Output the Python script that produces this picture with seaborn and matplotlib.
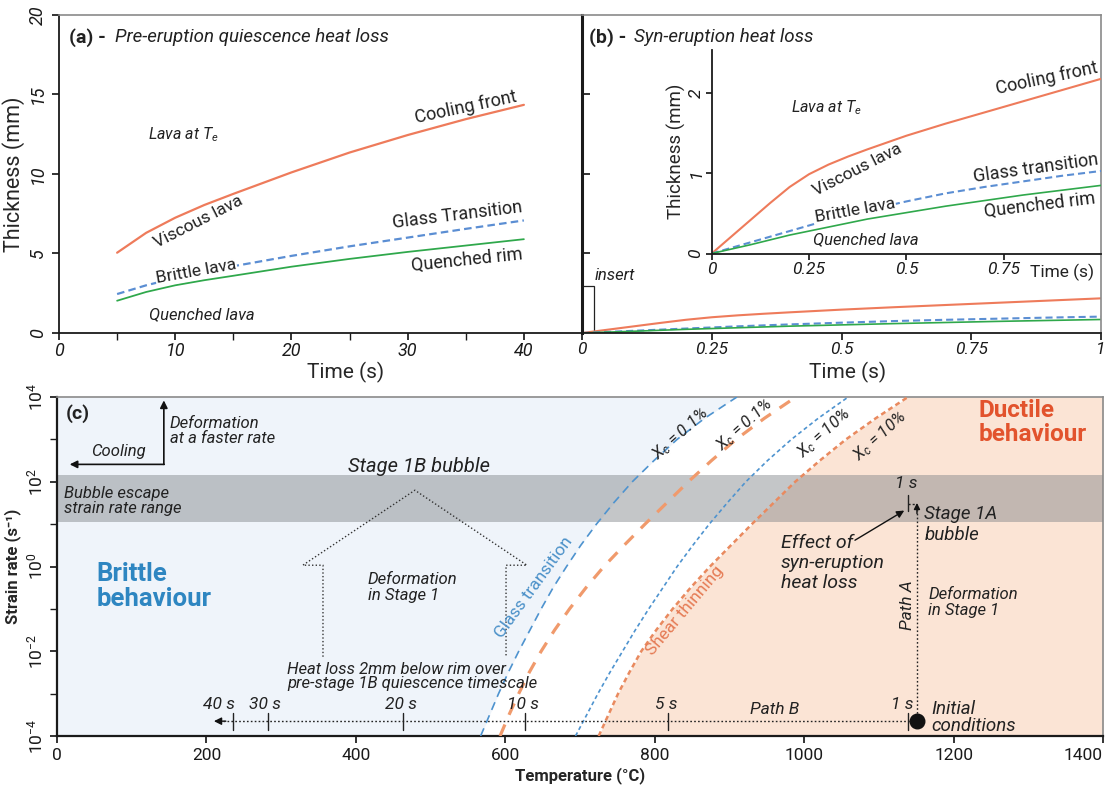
import numpy as np
import pandas as pd
import matplotlib
matplotlib.use("Agg")
import matplotlib.pyplot as plt
from matplotlib.patches import Rectangle
from matplotlib.ticker import FixedLocator, NullFormatter
import seaborn as sns

# ---------------- data ----------------
# Panel (a): pre-eruption quiescence heat loss (thickness in mm vs time in s)
time_a = [5, 7.5, 10, 12.5, 15, 20, 25, 30, 35, 40]
cooling_front_a = [5.05, 6.3, 7.25, 8.05, 8.75, 10.1, 11.35, 12.45, 13.45, 14.35]
glass_transition_a = [2.45, 3.0, 3.45, 3.85, 4.2, 4.85, 5.45, 6.0, 6.55, 7.08]
quenched_rim_a = [2.03, 2.58, 3.0, 3.32, 3.6, 4.17, 4.66, 5.1, 5.5, 5.9]

# Panel (b): syn-eruption heat loss
time_b = [0, 0.05, 0.1, 0.15, 0.2, 0.25, 0.3, 0.35, 0.4, 0.5, 0.6, 0.7, 0.8, 0.9, 1.0]
cooling_front_b = [0, 0.21, 0.42, 0.63, 0.83, 0.99, 1.11, 1.21, 1.30, 1.47, 1.62, 1.76, 1.90, 2.04, 2.18]
glass_transition_b = [0, 0.07, 0.14, 0.21, 0.28, 0.35, 0.42, 0.48, 0.54, 0.65, 0.75, 0.83, 0.90, 0.97, 1.03]
quenched_rim_b = [0, 0.055, 0.11, 0.17, 0.23, 0.28, 0.33, 0.38, 0.43, 0.51, 0.59, 0.66, 0.73, 0.79, 0.85]

# Panel (c): strain rate (10^exponent) vs temperature (deg C) for each boundary
rate_exponent = [-4, -3.5, -3, -2.5, -2, -1.5, -1, -0.5, 0, 0.5, 1, 1.5, 2, 2.5, 3, 3.5, 4]
glass_T_xc01 = [567, 579, 591, 604, 618, 633, 648, 664, 682, 701, 722, 745, 770, 799, 830, 867, 910]
shear_T_xc01 = [593, 605, 618, 632, 648, 666, 686, 708, 732, 759, 787, 816, 845, 876, 909, 947, 989]
glass_T_xc10 = [694, 709, 724, 740, 757, 774, 792, 811, 830, 851, 873, 897, 922, 951, 983, 1019, 1059]
shear_T_xc10 = [725, 738, 751, 766, 782, 802, 824, 848, 874, 902, 930, 959, 988, 1021, 1056, 1096, 1139]
band_exponent = [1.05, 2.15]

path_b_labels = ["1 s", "5 s", "10 s", "20 s", "30 s", "40 s"]
path_b_T = [1139, 818, 627, 463, 282, 235]
initial_T = 1151
initial_exp = -3.65
path_a_top_exp = 1.5

# ---------------- style ----------------
sns.set_theme(style="ticks")
plt.rcParams["font.family"] = ["Roboto", "DejaVu Sans"]
plt.rcParams["mathtext.fontset"] = "custom"
plt.rcParams["mathtext.rm"] = "Roboto"
plt.rcParams["mathtext.it"] = "Roboto:italic"
plt.rcParams["mathtext.bf"] = "Roboto:bold"

C_ORANGE = "#EE7B5B"
C_BLUE = "#5B8ED3"
C_GREEN = "#2FA84B"
C_CBLUE = "#4E93CF"
C_CORANGE = "#F09A6C"
C_CORANGE2 = "#E98A5F"
TXT = "#222222"

fig = plt.figure(figsize=(11.09, 7.91), dpi=100)
W, H = 1109, 791
ax_a = fig.add_axes([59 / W, 1 - 333 / H, 523 / W, 318 / H])
ax_b = fig.add_axes([582 / W, 1 - 333 / H, 519 / W, 318 / H])
ax_in = fig.add_axes([711.75 / W, 1 - 253.5 / H, 389.25 / W, 203.5 / H])
ax_c = fig.add_axes([57 / W, 1 - 736 / H, 1046 / W, 339 / H])


def style_spines(ax, gray=("top", "right"), black=("left", "bottom")):
    for s in gray:
        ax.spines[s].set_color("#8a8a8a")
        ax.spines[s].set_linewidth(1.2)
    for s in black:
        ax.spines[s].set_color("#1a1a1a")
        ax.spines[s].set_linewidth(1.3)


def three_lines(ax, t, cf, gt, qr, lw=1.6):
    sns.lineplot(x=t, y=cf, ax=ax, color=C_ORANGE, linewidth=lw, sort=False)
    sns.lineplot(x=t, y=gt, ax=ax, color=C_BLUE, linewidth=lw, linestyle=(0, (3.4, 1.9)), sort=False)
    sns.lineplot(x=t, y=qr, ax=ax, color=C_GREEN, linewidth=lw * 0.8, sort=False)


# ---------------- panel (a) ----------------
three_lines(ax_a, time_a, cooling_front_a, glass_transition_a, quenched_rim_a)
ax_a.set_xlim(0, 45)
ax_a.set_ylim(0, 20)
ax_a.set_xticks([0, 10, 20, 30, 40])
ax_a.set_xticks([5, 15, 25, 35], minor=True)
ax_a.set_yticks([0, 5, 10, 15, 20])
ax_a.tick_params(axis="both", which="both", direction="out", length=5, labelsize=13, colors="#1a1a1a")
ax_a.tick_params(axis="x", pad=1.5)
ax_a.tick_params(axis="y", labelrotation=90)
for lab in ax_a.get_xticklabels() + ax_a.get_yticklabels():
    lab.set_style("italic")
for lab in ax_a.get_yticklabels():
    lab.set_va("center")
ax_a.spines["right"].set_visible(False)
style_spines(ax_a, gray=("top",))
ax_a.set_xlabel("Time (s)", fontsize=15)
ax_a.xaxis.set_label_coords((346 - 59) / 523, -0.092)
ax_a.set_ylabel("Thickness (mm)", fontsize=15.5, labelpad=3)

ax_a.text(0.9, 18.6, "(a) -", fontsize=14, fontweight="bold", va="center", color=TXT)
ax_a.text(4.8, 18.6, "Pre-eruption quiescence heat loss", fontsize=13.5, style="italic", va="center", color=TXT)
ax_a.text(10.7, 12.45, "Lava at $T_e$", fontsize=11.5, style="italic", ha="center", va="center", color=TXT)
ax_a.text(35.0, 14.2, "Cooling front", fontsize=13, rotation=12, ha="center", va="center", color=TXT)
ax_a.text(12.0, 7.0, "Viscous lava", fontsize=12.5, rotation=27, ha="center", va="center", color=TXT)
ax_a.text(34.3, 7.4, "Glass Transition", fontsize=13, rotation=7, ha="center", va="center", color=TXT)
ax_a.text(11.8, 3.85, "Brittle lava", fontsize=12.5, rotation=10, ha="center", va="center", color=TXT,
          bbox=dict(facecolor="white", edgecolor="none", pad=0.5))
ax_a.text(35.1, 4.6, "Quenched rim", fontsize=13, rotation=6, ha="center", va="center", color=TXT)
ax_a.text(12.3, 1.13, "Quenched lava", fontsize=12, style="italic", ha="center", va="center", color=TXT)

# ---------------- panel (b) ----------------
three_lines(ax_b, time_b, cooling_front_b, glass_transition_b, quenched_rim_b, lw=1.5)
ax_b.set_xlim(0, 1)
ax_b.set_ylim(0, 20)
ax_b.set_xticks([0, 0.25, 0.5, 0.75, 1])
ax_b.set_xticklabels(["0", "0.25", "0.5", "0.75", "1"])
ax_b.set_yticks([5, 10, 15])
ax_b.set_yticklabels([])
ax_b.tick_params(axis="x", direction="out", length=5, labelsize=12.5, pad=1.5, colors="#1a1a1a")
ax_b.tick_params(axis="y", direction="in", length=6, colors="#1a1a1a")
for lab in ax_b.get_xticklabels():
    lab.set_style("italic")
style_spines(ax_b)
ax_b.spines["left"].set_linewidth(2.2)
ax_b.set_xlabel("Time (s)", fontsize=15)
ax_b.xaxis.set_label_coords((848 - 582) / 519, -0.092)
ax_b.add_patch(Rectangle((0, 0), 0.024, 2.97, fill=False, edgecolor="#222222", linewidth=0.9))
ax_b.text(0.064, 3.6, "insert", fontsize=12, style="italic", ha="center", va="center", color=TXT)
ax_b.text(0.013, 18.6, "(b) -", fontsize=14, fontweight="bold", va="center", color=TXT)
ax_b.text(0.1, 18.6, "Syn-eruption heat loss", fontsize=13.5, style="italic", va="center", color=TXT)

# inset
three_lines(ax_in, time_b, cooling_front_b, glass_transition_b, quenched_rim_b, lw=1.5)
ax_in.set_xlim(0, 1)
ax_in.set_ylim(0, 2.54)
ax_in.patch.set_alpha(0)
ax_in.set_xticks([0, 0.25, 0.5, 0.75])
ax_in.set_xticklabels(["0", "0.25", "0.5", "0.75"])
ax_in.set_yticks([0, 1, 2])
ax_in.tick_params(axis="both", direction="out", length=4, labelsize=12.5, colors="#1a1a1a", pad=2)
ax_in.tick_params(axis="y", labelrotation=90)
for lab in ax_in.get_xticklabels() + ax_in.get_yticklabels():
    lab.set_style("italic")
for lab in ax_in.get_yticklabels():
    lab.set_va("center")
ax_in.spines["top"].set_visible(False)
ax_in.spines["right"].set_visible(False)
style_spines(ax_in, gray=())
ax_in.set_ylabel("Thickness (mm)", fontsize=13.5, labelpad=2)
ax_in.text(0.9, -0.235, "Time (s)", fontsize=12.5, ha="center", va="center", color=TXT)
ax_in.text(0.294, 1.82, "Lava at $T_e$", fontsize=11.5, style="italic", ha="center", va="center", color=TXT)
ax_in.text(0.862, 2.18, "Cooling front", fontsize=13, rotation=12, ha="center", va="center", color=TXT)
ax_in.text(0.375, 1.04, "Viscous lava", fontsize=12.5, rotation=27, ha="center", va="center", color=TXT)
ax_in.text(0.833, 1.06, "Glass transition", fontsize=13, rotation=8, ha="center", va="center", color=TXT)
ax_in.text(0.368, 0.54, "Brittle lava", fontsize=12.5, rotation=10, ha="center", va="center", color=TXT,
           bbox=dict(facecolor="white", edgecolor="none", pad=0.5))
ax_in.text(0.842, 0.6, "Quenched rim", fontsize=13, rotation=7, ha="center", va="center", color=TXT)
ax_in.text(0.395, 0.17, "Quenched lava", fontsize=12, style="italic", ha="center", va="center", color=TXT)

# ---------------- panel (c) ----------------
rates = [10.0 ** e for e in rate_exponent]
ax_c.set_yscale("log")
ax_c.set_xlim(0, 1400)
ax_c.set_ylim(1e-4, 1e4)
ax_c.fill_betweenx(rates, 0, glass_T_xc01, color="#EFF4FA", lw=0, zorder=0)
ax_c.fill_betweenx(rates, shear_T_xc10, 1400, color="#FBE4D5", lw=0, zorder=0)
ax_c.axhspan(10 ** band_exponent[0], 10 ** band_exponent[1], color="#7d8186", alpha=0.45, lw=0, zorder=1)

sns.lineplot(x=glass_T_xc01, y=rates, ax=ax_c, sort=False, color=C_CBLUE, linewidth=1.2,
             linestyle=(0, (5, 3.5)), zorder=3)
sns.lineplot(x=shear_T_xc01, y=rates, ax=ax_c, sort=False, color=C_CORANGE, linewidth=2.3,
             linestyle=(0, (3.9, 3.3)), zorder=3)
sns.lineplot(x=glass_T_xc10, y=rates, ax=ax_c, sort=False, color=C_CBLUE, linewidth=1.2,
             linestyle=(0, (2.4, 1.8)), zorder=3)
sns.lineplot(x=shear_T_xc10, y=rates, ax=ax_c, sort=False, color=C_CORANGE2, linewidth=1.8,
             linestyle=(0, (2.0, 1.4)), zorder=3)

ax_c.set_xticks(list(range(0, 1401, 200)))
ax_c.yaxis.set_major_locator(FixedLocator([1e-4, 1e-2, 1e0, 1e2, 1e4]))
ax_c.yaxis.set_minor_locator(FixedLocator([1e-3, 1e-1, 1e1, 1e3]))
ax_c.yaxis.set_minor_formatter(NullFormatter())
ax_c.set_yticklabels(["$10^{-4}$", "$10^{-2}$", "$10^{0}$", "$10^{2}$", "$10^{4}$"])
ax_c.tick_params(axis="both", which="both", direction="out", length=5, labelsize=12.5, colors="#1a1a1a")
ax_c.tick_params(axis="y", labelrotation=90)
for lab in ax_c.get_yticklabels():
    lab.set_va("center")
ax_c.get_xticklabels()[-1].set_ha("right")
style_spines(ax_c)
ax_c.spines["left"].set_linewidth(1.6)
ax_c.spines["bottom"].set_linewidth(1.6)
ax_c.set_xlabel("Temperature (°C)", fontsize=12, fontweight="bold", labelpad=3)
ax_c.set_ylabel("Strain rate (s⁻¹)", fontsize=12, fontweight="bold", labelpad=3)


def tc(x, e, s, **kw):
    kw.setdefault("fontsize", 12)
    kw.setdefault("style", "italic")
    kw.setdefault("color", TXT)
    kw.setdefault("zorder", 5)
    ax_c.text(x, 10 ** e, s, **kw)


tc(12, 3.6, "(c)", fontsize=14, style="normal", fontweight="bold", va="center")
tc(82, 2.72, "Cooling", ha="center", va="center")
tc(151, 3.2, "Deformation\nat a faster rate", ha="left", va="center", linespacing=1.05)
ax_c.annotate("", xy=(17, 10 ** 2.41), xytext=(143.5, 10 ** 2.41),
              arrowprops=dict(arrowstyle="-|>", color="#111", lw=1.2, mutation_scale=11, shrinkA=0, shrinkB=0))
ax_c.annotate("", xy=(143, 10 ** 3.92), xytext=(143, 10 ** 2.41),
              arrowprops=dict(arrowstyle="-|>", color="#111", lw=1.2, mutation_scale=11, shrinkA=0, shrinkB=0))
tc(485, 2.35, "Stage 1B bubble", fontsize=14.5, ha="center", va="center")
tc(10, 1.55, "Bubble escape\nstrain rate range", ha="left", va="center", linespacing=1.05)
tc(53, -0.47, "Brittle\nbehaviour", fontsize=18.5, style="normal", fontweight="bold", color="#2E86C1",
   ha="left", va="center", linespacing=1.05)
tc(1233, 3.4, "Ductile\nbehaviour", fontsize=17.5, style="normal", fontweight="bold", color="#E2532D",
   ha="left", va="center", linespacing=1.05)
tc(416, -0.5, "Deformation\nin Stage 1", ha="left", va="center", linespacing=1.1)
tc(308, -2.6, "Heat loss 2mm below rim over\npre-stage 1B quiescence timescale", ha="left", va="center",
   linespacing=0.95)

# house-shaped dotted outline
house_T = [356, 356, 329, 479, 629, 601, 601]
house_e = [-2.13, 0.03, 0.03, 1.8, 0.03, 0.03, -2.13]
ax_c.plot(house_T, [10 ** e for e in house_e], linestyle=(0, (1, 1.6)), color="#333", lw=1.0, zorder=4)

# boundary labels
tc(638, -0.5, "Glass transition", fontsize=12.5, style="normal", color="#4A90C8", rotation=54,
   ha="center", va="center", rotation_mode="anchor")
tc(840, -1.05, "Shear thinning", fontsize=12.5, style="normal", color="#E57B55", rotation=50,
   ha="center", va="center", rotation_mode="anchor")
for xx, ee, s in [(834, 3.12, "X$_c$ = 0.1%"), (920, 3.35, "X$_c$ = 0.1%"),
                  (1027, 3.15, "X$_c$ = 10%"), (1102, 3.08, "X$_c$ = 10%")]:
    tc(xx, ee, s, fontsize=12, rotation=42, ha="center", va="center", rotation_mode="anchor")

# Path B
ax_c.plot([initial_T, 222], [10 ** initial_exp] * 2, linestyle=(0, (1.2, 1.6)), color="#222", lw=1.0, zorder=4)
ax_c.annotate("", xy=(210, 10 ** initial_exp), xytext=(226, 10 ** initial_exp),
              arrowprops=dict(arrowstyle="-|>", color="#111", lw=1.0, mutation_scale=11, shrinkA=0, shrinkB=0))
for lab, tt in zip(path_b_labels, path_b_T):
    ax_c.plot([tt, tt], [10 ** -3.85, 10 ** -3.45], color="#222", lw=1.0, zorder=4)
    off = -18 if lab == "40 s" else (-8 if lab == "1 s" else -3)
    tc(tt + off, -3.25, lab, fontsize=12.5, ha="center", va="center")
tc(961, -3.38, "Path B", fontsize=12.5, ha="center", va="center")

# Path A
ax_c.plot([initial_T, initial_T], [10 ** initial_exp, 10 ** (path_a_top_exp - 0.1)],
          linestyle=(0, (1.2, 1.6)), color="#222", lw=1.0, zorder=4)
ax_c.annotate("", xy=(initial_T, 10 ** path_a_top_exp), xytext=(initial_T, 10 ** (path_a_top_exp - 0.25)),
              arrowprops=dict(arrowstyle="-|>", color="#111", lw=1.0, mutation_scale=9, shrinkA=0, shrinkB=0))
ax_c.plot([1139, 1139], [10 ** 1.3, 10 ** 1.68], color="#222", lw=1.0, zorder=4)
ax_c.plot([1139, 1150], [10 ** 1.48] * 2, linestyle=(0, (1.5, 1.5)), color="#222", lw=1.0, zorder=4)
tc(1136, 1.95, "1 s", fontsize=12.5, ha="center", va="center")
ax_c.scatter([initial_T], [10 ** initial_exp], s=110, color="#111", zorder=6)
tc(1139, -0.92, "Path A", fontsize=12.5, rotation=90, ha="center", va="center")
tc(1166, -0.85, "Deformation\nin Stage 1", ha="left", va="center", linespacing=1.15)
tc(1170, -3.57, "Initial\nconditions", fontsize=13.5, ha="left", va="center", linespacing=0.9)
tc(1161, 1.0, "Stage 1A\nbubble", fontsize=13.5, ha="left", va="center", linespacing=1.2)
tc(969, 0.08, "Effect of\nsyn-eruption\nheat loss", fontsize=14, ha="left", va="center", linespacing=1.15)
ax_c.annotate("", xy=(1134, 10 ** 1.32), xytext=(1068, 10 ** 0.62),
              arrowprops=dict(arrowstyle="-|>", color="#111", lw=1.0, mutation_scale=11, shrinkA=0, shrinkB=0))

fig.savefig("out.png", dpi=100)
